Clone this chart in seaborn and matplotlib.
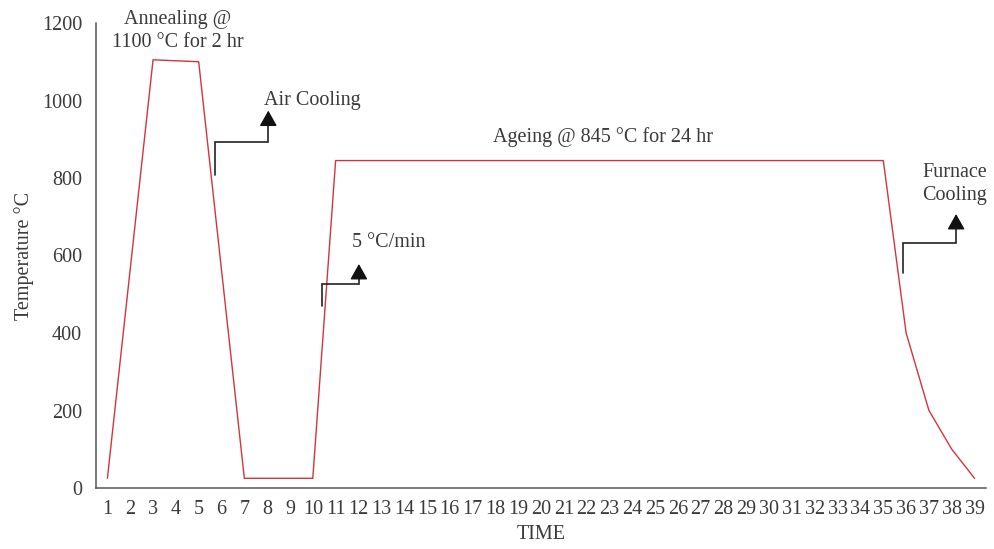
import matplotlib
matplotlib.use("Agg")
import matplotlib.pyplot as plt
import seaborn as sns
import numpy as np
import pandas as pd

# ---- data ----
time_points = [1, 3, 5, 7, 10, 11, 35, 36, 37, 38, 39]
temperature = [25, 1105, 1100, 25, 25, 845, 845, 400, 200, 100, 25]
x_tick_labels = [str(i) for i in range(1, 40)]
y_ticks = [0, 200, 400, 600, 800, 1000, 1200]

sns.set_theme(style="white")
plt.rcParams['font.family'] = ['Liberation Serif', 'DejaVu Serif']
FS = 14.5
DARK = "#3a3a3a"
SPINE = "#555555"
RED = "#d2353d"

fig = plt.figure(figsize=(9.94, 5.49), dpi=100)
ax = fig.add_axes([96/994, 1-488/549, (986-96)/994, (488-23)/549])

df = pd.DataFrame({"TIME": time_points, "Temperature": temperature})
sns.lineplot(data=df, x="TIME", y="Temperature", ax=ax, color=RED, linewidth=1.0)

ax.set_xlim(0.5, 39.5)
ax.set_ylim(0, 1200)
ax.set_xticks(range(1, 40))
ax.set_xticklabels(x_tick_labels, fontsize=FS, color=DARK)
ax.set_xticks(np.arange(0.5, 40, 1), minor=True)
ax.tick_params(axis='x', which='major', length=0, pad=9)
ax.tick_params(axis='x', which='minor', length=4.5, width=1.1, color=SPINE, direction='out')
ax.set_yticks(y_ticks)
ax.set_yticklabels([str(v) for v in y_ticks], fontsize=FS, color=DARK)
ax.tick_params(axis='y', length=5, width=1.1, color=SPINE, direction='out', pad=5)

for s in ['top', 'right']:
    ax.spines[s].set_visible(False)
for s in ['left', 'bottom']:
    ax.spines[s].set_color(SPINE)
    ax.spines[s].set_linewidth(1.1)

ax.set_xlabel("TIME", fontsize=FS, color=DARK, labelpad=4)
ax.set_ylabel("Temperature °C", fontsize=FS, color=DARK, labelpad=6)

# annotations
ax.text(4.09, 1138, "Annealing @\n1100 °C for 2 hr", ha='center', va='baseline',
        fontsize=FS, color=DARK, linespacing=1.3)
ax.text(7.86, 988, "Air Cooling", ha='left', va='baseline', fontsize=FS, color=DARK)
ax.text(17.9, 893, "Ageing @ 845 °C for 24 hr", ha='left', va='baseline', fontsize=FS, color=DARK)
ax.text(11.72, 622, "5 °C/min", ha='left', va='baseline', fontsize=FS, color=DARK)
ax.text(38.14, 743, "Furnace\nCooling", ha='center', va='baseline', fontsize=FS,
        color=DARK, linespacing=1.3)

def elbow(x0, y0, y1, x1, ybase, ytip):
    ax.plot([x0, x0, x1, x1], [y0, y1, y1, ybase + 5], color="#222222", lw=1.2,
            solid_joinstyle='miter')
    ax.annotate('', xy=(x1, ytip), xytext=(x1, ybase),
                arrowprops=dict(arrowstyle='-|>,head_length=0.8,head_width=0.45',
                                color="#111111", lw=1.0, shrinkA=0, shrinkB=0))

elbow(5.71, 808, 893.7, 8.05, 945, 974)
elbow(10.42, 470, 525.7, 12.02, 551.5, 578)
elbow(35.88, 554, 631.5, 38.19, 678.7, 707)

fig.savefig("out.png", dpi=100)
